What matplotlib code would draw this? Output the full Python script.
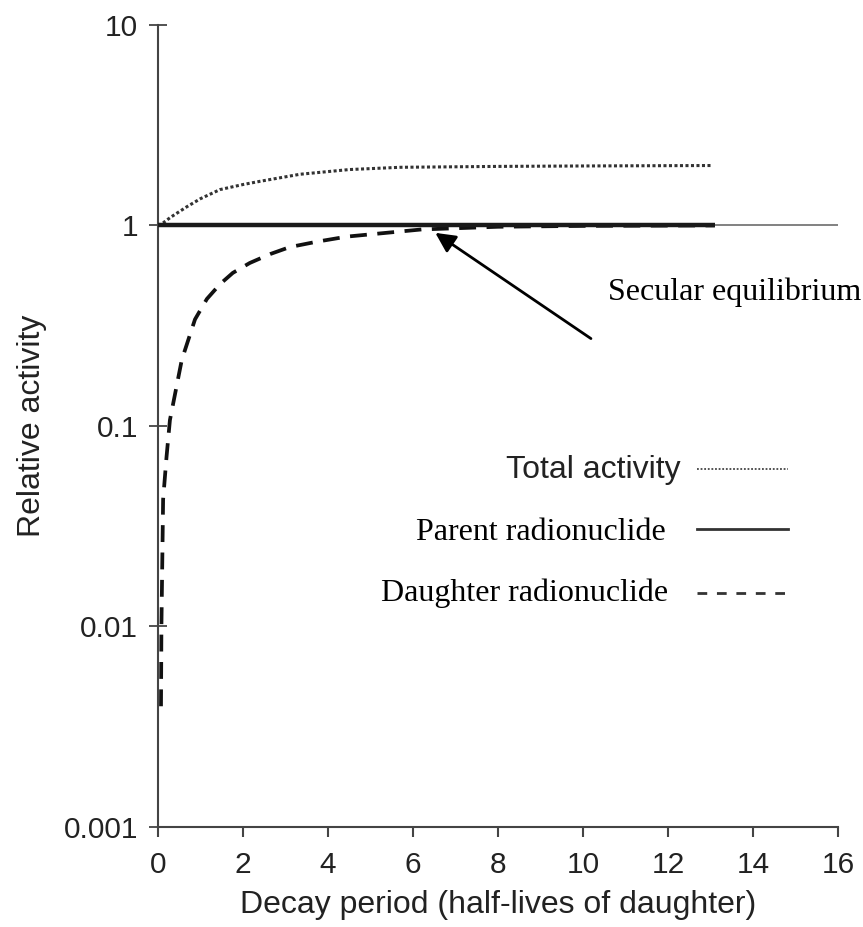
import numpy as np
import matplotlib.pyplot as plt
from matplotlib.lines import Line2D

# values
t_total = [0, 0.12, 0.3, 0.68, 1.0, 1.46, 2.0, 2.4, 3.34, 4.5, 5.7, 8, 10, 13]
total = [1.0, 1.03, 1.1, 1.24, 1.36, 1.51, 1.6, 1.66, 1.8, 1.9, 1.95, 1.97, 1.98, 1.99]

t_parent = [0, 13.1]
parent = [1.0, 1.0]

t_daughter = [0.07, 0.08, 0.12, 0.2, 0.28, 0.56, 0.87, 1.15, 1.46, 1.76, 2.16,
              2.64, 3.1, 3.74, 4.45, 6.2, 8, 10, 13.1]
daughter = [0.004, 0.01, 0.043, 0.07, 0.107, 0.214, 0.34, 0.43, 0.51, 0.58, 0.65,
            0.72, 0.78, 0.83, 0.88, 0.955, 0.985, 0.995, 1.0]

xticks = [0, 2, 4, 6, 8, 10, 12, 14, 16]
yticks = [0.001, 0.01, 0.1, 1, 10]
ylabels = ['0.001', '0.01', '0.1', '1', '10']

sans = 'Liberation Sans'
serif = 'Liberation Serif'
txt = '#222222'

fig = plt.figure(figsize=(8.63, 9.27), dpi=100)
ax = fig.add_axes([0.1831, 0.1079, 0.788, 0.8652])

# reference line at 1 across the whole axis
ax.axhline(1, color='#777777', lw=1.3, zorder=1)
ax.plot(t_parent, parent, color='#1a1a1a', lw=3.2, solid_capstyle='butt', zorder=3)
ax.plot(t_total, total, color='#333333', lw=2.2, ls=(0, (1.0, 0.8)), zorder=2)
ax.plot(t_daughter, daughter, color='#111111', lw=2.7, ls=(0, (4.5, 2.8)), zorder=2)

ax.set_yscale('log')
ax.set_xlim(0, 16)
ax.set_ylim(0.001, 10)
ax.set_xticks(xticks)
ax.set_xticklabels([str(v) for v in xticks])
ax.set_yticks(yticks)
ax.set_yticklabels(ylabels)
ax.minorticks_off()

for s in ['top', 'right']:
    ax.spines[s].set_visible(False)
for s in ['left', 'bottom']:
    ax.spines[s].set_color('#444444')
    ax.spines[s].set_linewidth(1.5)

ax.tick_params(axis='x', direction='out', length=7, width=1.5, color='#444444',
               labelsize=21.5, labelcolor=txt, pad=10)
ax.tick_params(axis='y', direction='inout', length=13, width=1.3, color='#444444',
               labelsize=21.5, labelcolor=txt, pad=8)
for lab in ax.get_xticklabels() + ax.get_yticklabels():
    lab.set_fontfamily(sans)

ax.set_xlabel('Decay period (half-lives of daughter)', fontsize=23, family=sans,
              color=txt, labelpad=8)
ax.set_ylabel('Relative activity', fontsize=23, family=sans, color=txt, labelpad=12)

# annotation
ax.annotate('', xy=(6.47, 0.935), xytext=(0.640, 0.607), textcoords='axes fraction',
            arrowprops=dict(arrowstyle='-|>', color='black', lw=2, mutation_scale=30))
ax.text(0.662, 0.667, 'Secular equilibrium', transform=ax.transAxes, family=serif,
        fontsize=23, va='center', ha='left', color='black')

# hand-made legend
ax.text(0.768, 0.445, 'Total activity', transform=ax.transAxes, family=sans,
        fontsize=23, ha='right', va='center', color=txt)
ax.text(0.746, 0.367, 'Parent radionuclide', transform=ax.transAxes, family=serif,
        fontsize=23, ha='right', va='center', color='black')
ax.text(0.750, 0.292, 'Daughter radionuclide', transform=ax.transAxes, family=serif,
        fontsize=23, ha='right', va='center', color='black')
ax.add_line(Line2D([0.793, 0.926], [0.446, 0.446], transform=ax.transAxes,
                   color='#444444', lw=1.3, ls=(0, (1, 1))))
ax.add_line(Line2D([0.793, 0.926], [0.372, 0.372], transform=ax.transAxes,
                   color='#333333', lw=2.0))
ax.add_line(Line2D([0.793, 0.926], [0.292, 0.292], transform=ax.transAxes,
                   color='#333333', lw=2.0, ls=(0, (3.5, 3.5))))

fig.savefig('out.png', dpi=100)
